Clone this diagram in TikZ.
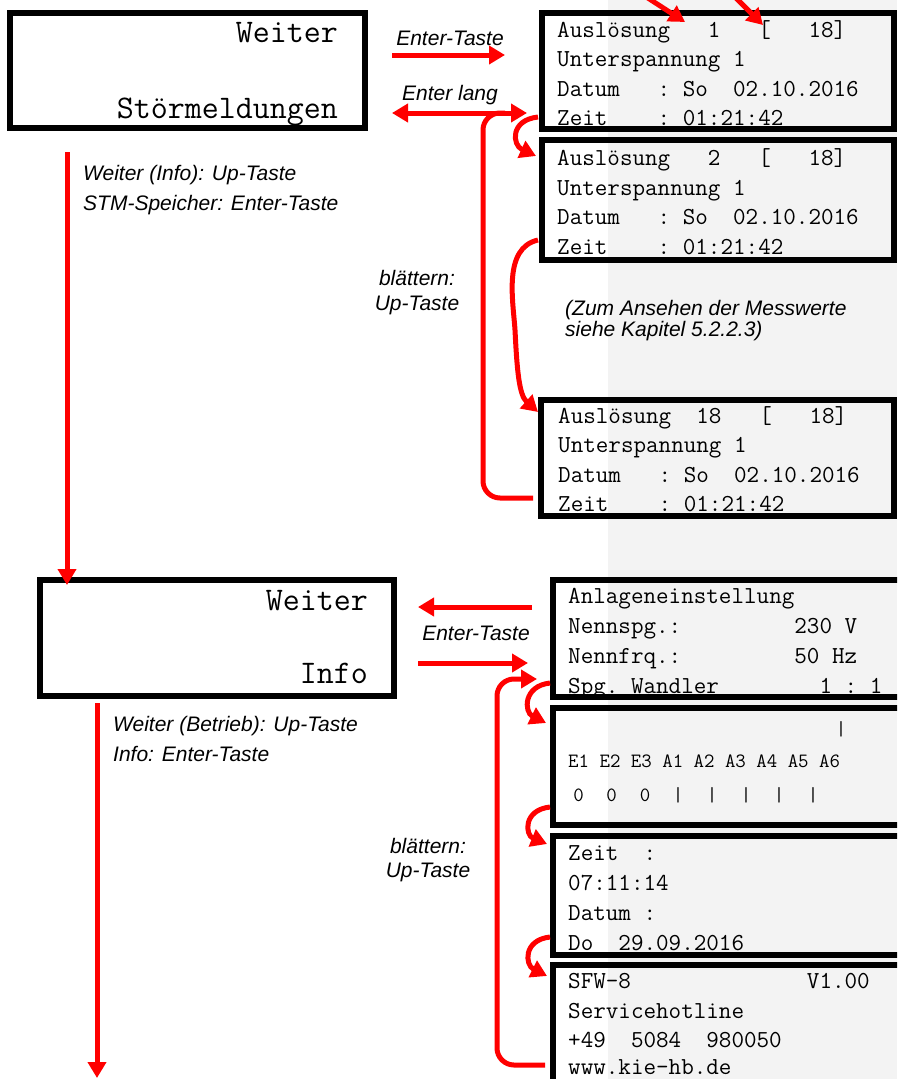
\documentclass[tikz,border=0pt]{standalone}
\usepackage{fontspec}
\setmainfont{Liberation Sans}
\usetikzlibrary{arrows.meta}
\definecolor{arrred}{RGB}{255,0,0}
\definecolor{pagegray}{RGB}{243,243,243}
\begin{document}
\begin{tikzpicture}[x=1pt,y=-1pt,
  screen/.style={draw=black, line width=6pt, inner sep=0pt, outer sep=0pt, anchor=north west},
  disp/.style={font=\fontsize{24.4}{29}\selectfont\ttfamily, anchor=base west, inner sep=0pt},
  big/.style={font=\fontsize{33}{40}\selectfont\ttfamily, anchor=base east, inner sep=0pt},
  small/.style={font=\fontsize{20.3}{24}\selectfont\ttfamily, inner sep=0pt},
  lbl/.style={font=\fontsize{21}{25}\selectfont\itshape, inner sep=0pt},
  redline/.style={draw=arrred, line width=5pt},
  arr/.style={redline, -{Triangle[length=16pt,width=18pt]}},
  darr/.style={redline, {Triangle[length=16pt,width=18pt]}-{Triangle[length=16pt,width=18pt]}},
]
\useasboundingbox (0,0) rectangle (897,1079);
\clip (0,0) rectangle (897,1079);
\fill[pagegray] (608,0) rectangle (897,1079);

% left menu screens
\node[screen, minimum width=355pt, minimum height=115pt] (s1) at (10,13) {};
\node[big] (s1a) at (338,42) {Weiter};
\node[big] (s1b) at (338,118) {Störmeldungen};
\node[screen, minimum width=354pt, minimum height=116pt] (s2) at (40,580) {};
\node[big] (s2a) at (368,610) {Weiter};
\node[big] (s2b) at (368,683) {Info};

% right displays (Störmeldungen)
\node[screen, minimum width=352pt, minimum height=116pt] (d1) at (542,13) {};
\node[disp] (d1a) at (557,37) {Auslösung~~~1~~~[~~~18]};
\node[disp] (d1b) at (557,66) {Unterspannung~1};
\node[disp] (d1c) at (557,96) {Datum~~~:~So~~02.10.2016};
\node[disp] (d1d) at (557,125) {Zeit~~~~:~01:21:42};

\node[screen, minimum width=352pt, minimum height=120pt] (d2) at (542,139.5) {};
\node[disp] (d2a) at (557,165) {Auslösung~~~2~~~[~~~18]};
\node[disp] (d2b) at (557,195) {Unterspannung~1};
\node[disp] (d2c) at (557,224) {Datum~~~:~So~~02.10.2016};
\node[disp] (d2d) at (557,254) {Zeit~~~~:~01:21:42};

\node[screen, minimum width=353.5pt, minimum height=116pt] (d3) at (540.5,399.5) {};
\node[disp] (d3a) at (558,423) {Auslösung~~18~~~[~~~18]};
\node[disp] (d3b) at (558,452.5) {Unterspannung~1};
\node[disp] (d3c) at (558,482) {Datum~~~:~So~~02.10.2016};
\node[disp] (d3d) at (558,511.5) {Zeit~~~~:~01:21:42};

% right displays (Info)
\node[screen, minimum width=360pt, minimum height=117pt] (i1) at (553,580) {};
\node[disp] (i1a) at (568,603) {Anlageneinstellung};
\node[disp] (i1b) at (568,633) {Nennspg.:~~~~~~~~~230~V};
\node[disp] (i1c) at (568,663) {Nennfrq.:~~~~~~~~~50~Hz};
\node[disp] (i1d) at (568,693) {Spg.~Wandler~~~~~~~~1~:~1};

\node[screen, minimum width=360pt, minimum height=117pt] (i2) at (553,708) {};
\node[small, anchor=base] (i2bar) at (841,735) {|};
\node[small, anchor=base west] (i2a) at (568,767) {E1~E2~E3~A1~A2~A3~A4~A5~A6};
\foreach \xx/\tt [count=\k] in {578.5/0,611.5/0,645/0,678/|,712/|,746/|,779/|,813/|}
  \node[small, anchor=base] (i2z\k) at (\xx,801) {\tt};

\node[screen, minimum width=360pt, minimum height=119pt] (i3) at (553,835.5) {};
\node[disp] (i3a) at (568,860) {Zeit~~:};
\node[disp] (i3b) at (568,890) {07:11:14};
\node[disp] (i3c) at (568,920) {Datum~:};
\node[disp] (i3d) at (568,950) {Do~~29.09.2016};

\node[screen, minimum width=360pt, minimum height=130pt] (i4) at (553,964.5) {};
\node[disp] (i4a) at (568,988) {SFW-8~~~~~~~~~~~~~~V1.00};
\node[disp] (i4b) at (568,1018) {Servicehotline};
\node[disp] (i4c) at (568,1047) {+49~~5084~~980050};
\node[disp] (i4d) at (568,1074) {www.kie-hb.de};

% labels
\node[lbl, anchor=base] (l1) at (450,45) {Enter-Taste};
\node[lbl, anchor=base] (l2) at (450,100) {Enter lang};
\node[lbl, anchor=base west] (l3) at (83,180) {Weiter (Info): Up-Taste};
\node[lbl, anchor=base west] (l4) at (83,210) {STM-Speicher: Enter-Taste};
\node[lbl, anchor=base] (l5) at (417,285) {blättern:};
\node[lbl, anchor=base] (l6) at (417,310) {Up-Taste};
\node[lbl, anchor=base west] (l7) at (565,315) {(Zum Ansehen der Messwerte};
\node[lbl, anchor=base west] (l8) at (565,336) {siehe Kapitel 5.2.2.3)};
\node[lbl, anchor=base] (l9) at (476,640) {Enter-Taste};
\node[lbl, anchor=base west] (l10) at (113,731) {Weiter (Betrieb): Up-Taste};
\node[lbl, anchor=base west] (l11) at (113,761) {Info: Enter-Taste};
\node[lbl, anchor=base] (l12) at (428,853) {blättern:};
\node[lbl, anchor=base] (l13) at (428,877) {Up-Taste};

% connector end points
\coordinate (t1s) at (620,-20);  \coordinate (t1e) at (685,22);
\coordinate (t2s) at (718,-20);  \coordinate (t2e) at (763,25);
\coordinate (e1s) at (392,55);   \coordinate (e1e) at (505,55);
\coordinate (el1) at (392,113);  \coordinate (el2) at (527,113);
\coordinate (lp1a) at (533,498); \coordinate (lp1b) at (483,498);
\coordinate (lp1c) at (483,113); \coordinate (lp1d) at (505,113);
\coordinate (c1s) at (538,117);  \coordinate (c1e) at (536,156);
\coordinate (c2s) at (538,240);  \coordinate (c2m) at (515,330); \coordinate (c2e) at (538,412);
\coordinate (v1s) at (67,152);   \coordinate (v1e) at (67,585);
\coordinate (v2s) at (97,703);   \coordinate (v2e) at (97,1078);
\coordinate (e2s) at (532,607);  \coordinate (e2e) at (418,607);
\coordinate (e3s) at (418,663);  \coordinate (e3e) at (528,663);
\coordinate (lp2a) at (545,1065); \coordinate (lp2b) at (497,1065);
\coordinate (lp2c) at (497,679);  \coordinate (lp2d) at (537,679);
\coordinate (c3s) at (550,683);  \coordinate (c3e) at (546,723);
\coordinate (c4s) at (550,807);  \coordinate (c4e) at (547,844);
\coordinate (c5s) at (550,937);  \coordinate (c5e) at (547,976);

% connectors
\draw[arr] (t1s) -- (t1e);
\draw[arr] (t2s) -- (t2e);
\draw[arr] (e1s) -- (e1e);
\draw[darr] (el1) -- (el2);
\draw[redline, rounded corners=17pt] (lp1a) -- (lp1b) -- (lp1c) -- (lp1d);
\draw[arr] (c1s) .. controls (510,120) and (512,145) .. (c1e);
\draw[arr] (c2s) .. controls (503,248) and (513,300) .. (c2m) .. controls (517,370) and (519,395) .. (c2e);
\draw[arr] (v1s) -- (v1e);
\draw[arr] (v2s) -- (v2e);
\draw[arr] (e2s) -- (e2e);
\draw[arr] (e3s) -- (e3e);
\draw[arr, rounded corners=17pt] (lp2a) -- (lp2b) -- (lp2c) -- (lp2d);
\draw[arr] (c3s) .. controls (523,686) and (524,712) .. (c3e);
\draw[arr] (c4s) .. controls (523,810) and (525,835) .. (c4e);
\draw[arr] (c5s) .. controls (523,940) and (525,965) .. (c5e);
\end{tikzpicture}
\end{document}
